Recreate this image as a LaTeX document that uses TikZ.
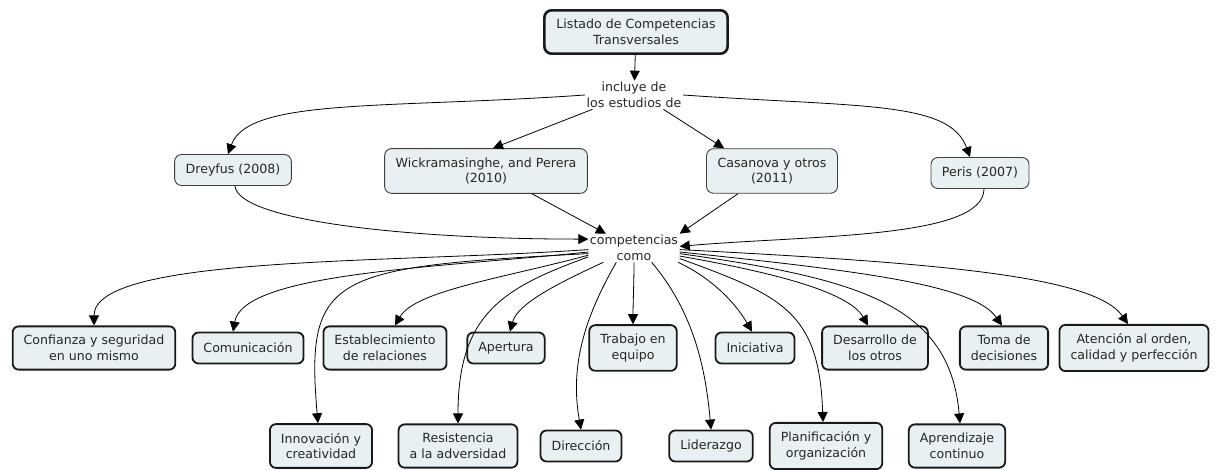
\documentclass[tikz,border=0pt]{standalone}
\usepackage{fontspec}
\setmainfont{DejaVu Sans}
\usetikzlibrary{positioning, arrows.meta}
\definecolor{fondocaja}{RGB}{233,240,243}

\begin{document}
\begin{tikzpicture}[
            x=1pt, y=1pt,
            >={Triangle[length=10pt,width=10pt]},
            texto/.style={font=\fontsize{12.6}{15.5}\selectfont, align=center, text=black!85},
            concepto/.style={texto, draw=black!90, line width=1.8pt, rounded corners=6pt, fill=fondocaja, inner xsep=11pt, inner ysep=9pt, minimum height=31pt},
            fuente/.style={concepto, line width=0.9pt, draw=black!75, rounded corners=7pt},
            raiz/.style={concepto, line width=2.6pt, rounded corners=7pt, inner xsep=12pt},
            enlace/.style={texto, inner sep=1.5pt},
            flecha/.style={->, line width=0.8pt},
        ]
            \def\filaA{122}
            \def\filaB{24}
            \path[use as bounding box, fill=white] (0,0) rectangle (1215,470);

            % Draw the root and the link phrases
            \node[raiz] (raiz) at (636,438) {Listado de Competencias\\Transversales};
            \node[enlace] (incl) at (634,375) {incluye de\\los estudios de};
            \node[enlace] (comp) at (634,222) {competencias\\como};

            % Draw the source nodes
            \node[fuente] (drey) at (233,300) {Dreyfus (2008)};
            \node[fuente] (wick) at (486,299) {Wickramasinghe, and Perera\\(2010)};
            \node[fuente] (casa) at (772,299) {Casanova y otros\\(2011)};
            \node[fuente] (peris) at (980,297) {Peris (2007)};

            % Draw the competences
            \foreach \nombre/\x/\fila/\texto in {
                    conf/94/\filaA/{Confianza y seguridad\\en uno mismo},
                    comun/248/\filaA/{Comunicación},
                    estab/385/\filaA/{Establecimiento\\de relaciones},
                    apert/506/\filaA/{Apertura},
                    trab/633/\filaA/{Trabajo en\\equipo},
                    inic/755/\filaA/{Iniciativa},
                    desa/875/\filaA/{Desarrollo de\\los otros},
                    toma/1004/\filaA/{Toma de\\decisiones},
                    aten/1134/\filaA/{Atención al orden,\\calidad y perfección},
                    innov/321/\filaB/{Innovación y\\creatividad},
                    resis/458/\filaB/{Resistencia\\a la adversidad},
                    direc/581/\filaB/{Dirección},
                    lider/711/\filaB/{Liderazgo},
                    plan/826/\filaB/{Planificación y\\organización},
                    apren/957/\filaB/{Aprendizaje\\continuo}}
                \node[concepto] (\nombre) at (\x,\fila) {\texto};

            % Connect the root with the sources
            \draw[flecha] (raiz) -- (incl);
            \draw[flecha] (incl.west) to[out=184, in=70, out distance=200pt, in distance=60pt] ([xshift=-5pt]drey.north);
            \draw[flecha] (incl.199) -- ([xshift=7pt]wick.north);
            \draw[flecha] (incl.334) -- ([xshift=18pt]casa.north west);
            \draw[flecha] (incl.east) to[out=-4, in=110, out distance=180pt, in distance=60pt] ([xshift=-10pt]peris.north);

            % Connect the sources with the competences
            \draw[flecha] ([xshift=2pt]drey.south) to[out=-85, in=180, out distance=35pt, in distance=180pt] (comp.169);
            \draw[flecha] ([xshift=46pt]wick.south) -- (comp.153);
            \draw[flecha] ([xshift=-34pt]casa.south) -- (comp.north east);
            \draw[flecha] ([xshift=4pt]peris.south) to[out=-90, in=5, out distance=50pt, in distance=130pt] (comp.2);

            % Connect the link with every competence
            \foreach \ancla/\destino/\dx/\salida/\dsal/\entrada/\dent in {
                    182/conf/0/184/200/90/70,
                    185/comun/-15/186/150/80/60,
                    187/innov/-3/183/257/95/150,
                    189/estab/10/195/90/60/40,
                    191/resis/0/200/90/90/110,
                    205/apert/4/205/45/75/30,
                    219/direc/0/240/70/100/60,
                    270/trab/0/270/20/90/20,
                    321/lider/0/-50/60/95/70,
                    342/inic/-3/-25/40/120/30,
                    347/plan/-3/-20/110/92/110,
                    350/desa/-7/-10/90/120/40,
                    353/apren/3/-8/180/95/120,
                    355/toma/-2/-6/180/125/50,
                    358/aten/-6/-3/250/125/60}
                \draw[flecha] (comp.\ancla) to[out=\salida, in=\entrada, out distance=\dsal pt, in distance=\dent pt] ([xshift=\dx pt]\destino.north);
        \end{tikzpicture}
\end{document}
